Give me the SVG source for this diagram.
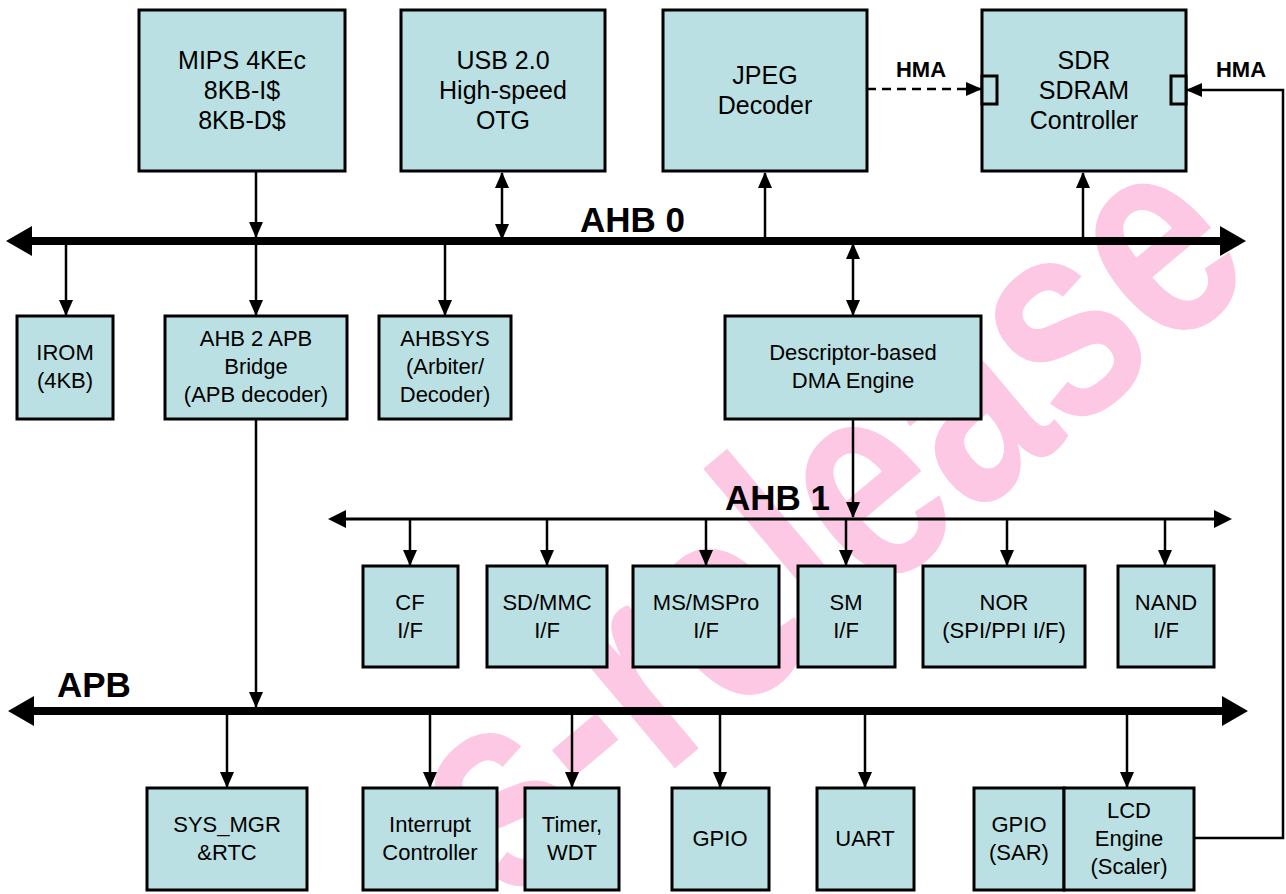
<svg xmlns="http://www.w3.org/2000/svg" width="1286" height="894" viewBox="0 0 1286 894">
<style>
.box{fill:#bae0e3;stroke:#000;stroke-width:3}
.t{font-family:"Liberation Sans",Arial,sans-serif;font-size:22px;text-anchor:middle;fill:#000}
.t1{font-family:"Liberation Sans",Arial,sans-serif;font-size:25px;text-anchor:middle;fill:#000}
.bl{font-family:"Liberation Sans",Arial,sans-serif;font-size:35px;font-weight:bold;fill:#000}
.hma{font-family:"Liberation Sans",Arial,sans-serif;font-size:22px;font-weight:bold;text-anchor:middle;fill:#000}
.c{fill:none;stroke:#000;stroke-width:2.5}
.wm{font-family:"Liberation Sans",Arial,sans-serif;font-size:270px;font-weight:bold;fill:#fcc8e4;text-anchor:middle}
</style>
<defs>
<marker id="ah" markerUnits="userSpaceOnUse" markerWidth="16" markerHeight="16" viewBox="0 0 16 16" refX="15" refY="8" orient="auto-start-reverse">
<path d="M0,1 L16,8 L0,15 Z" fill="#000"/>
</marker>
</defs>
<rect width="1286" height="894" fill="#fff"/>
<text class="wm" transform="translate(885,592) rotate(-40) scale(0.84,1.08)">s-release</text>

<g id="connectors">
<path d="M28,241 H1224" stroke="#000" stroke-width="8"/>
<path d="M6,241 L32,226 L32,256 Z M1246,241 L1220,226 L1220,256 Z" fill="#000"/>
<path d="M30,711 H1226" stroke="#000" stroke-width="8"/>
<path d="M8,711 L34,696 L34,726 Z M1248,711 L1222,696 L1222,726 Z" fill="#000"/>
<path d="M342,519 H1218" stroke="#000" stroke-width="3"/>
<path d="M328,519 L346,510 L346,528 Z M1232,519 L1214,510 L1214,528 Z" fill="#000"/>

<path class="c" d="M256,171 V237" marker-end="url(#ah)"/>
<path class="c" d="M502,173 V239" marker-start="url(#ah)" marker-end="url(#ah)"/>
<path class="c" d="M765,241 V173" marker-end="url(#ah)"/>
<path class="c" d="M1083,241 V173" marker-end="url(#ah)"/>
<path class="c" d="M66,241 V315" marker-end="url(#ah)"/>
<path class="c" d="M256,241 V315" marker-end="url(#ah)"/>
<path class="c" d="M445,241 V315" marker-end="url(#ah)"/>
<path class="c" d="M853,244 V315" marker-start="url(#ah)" marker-end="url(#ah)"/>
<path class="c" d="M853,419 V517" marker-end="url(#ah)"/>
<path class="c" d="M256,419 V707" marker-end="url(#ah)"/>
<path class="c" d="M410,519 V565" marker-end="url(#ah)"/>
<path class="c" d="M547,519 V565" marker-end="url(#ah)"/>
<path class="c" d="M706,519 V565" marker-end="url(#ah)"/>
<path class="c" d="M846,519 V565" marker-end="url(#ah)"/>
<path class="c" d="M1007,519 V565" marker-end="url(#ah)"/>
<path class="c" d="M1165,519 V565" marker-end="url(#ah)"/>
<path class="c" d="M227,711 V787" marker-end="url(#ah)"/>
<path class="c" d="M430,711 V787" marker-end="url(#ah)"/>
<path class="c" d="M572,711 V787" marker-end="url(#ah)"/>
<path class="c" d="M720,711 V787" marker-end="url(#ah)"/>
<path class="c" d="M865,711 V787" marker-end="url(#ah)"/>
<path class="c" d="M1127,711 V787" marker-end="url(#ah)"/>
<path class="c" d="M867,89 H981" stroke-dasharray="9,6" marker-end="url(#ah)"/>
<path class="c" d="M1194,838 H1283 V90 H1187" marker-end="url(#ah)"/>
</g>

<text class="bl" x="580" y="232">AHB 0</text>
<text class="bl" x="725" y="510">AHB 1</text>
<text class="bl" x="57" y="697">APB</text>
<text class="hma" x="921" y="77">HMA</text>
<text class="hma" x="1241" y="77">HMA</text>

<g id="mips"><rect class="box" x="139" y="10" width="206" height="161"/>
<text class="t1" x="242" y="69">MIPS 4KEc</text><text class="t1" x="242" y="99">8KB-I$</text><text class="t1" x="242" y="129">8KB-D$</text></g>
<g id="usb"><rect class="box" x="401" y="10" width="204" height="161"/>
<text class="t1" x="503" y="69">USB 2.0</text><text class="t1" x="503" y="99">High-speed</text><text class="t1" x="503" y="129">OTG</text></g>
<g id="jpeg"><rect class="box" x="663" y="10" width="204" height="161"/>
<text class="t1" x="765" y="84">JPEG</text><text class="t1" x="765" y="114">Decoder</text></g>
<g id="sdr"><rect class="box" x="982" y="10" width="204" height="161"/>
<rect class="box" x="982" y="76" width="15" height="28"/>
<rect class="box" x="1171" y="76" width="15" height="28"/>
<text class="t1" x="1084" y="69">SDR</text><text class="t1" x="1084" y="99">SDRAM</text><text class="t1" x="1084" y="129">Controller</text></g>

<g id="irom"><rect class="box" x="17" y="316" width="96" height="103"/>
<text class="t" x="65" y="360">IROM</text><text class="t" x="65" y="388">(4KB)</text></g>
<g id="bridge"><rect class="box" x="165" y="316" width="182" height="103"/>
<text class="t" x="256" y="346">AHB 2 APB</text><text class="t" x="256" y="374">Bridge</text><text class="t" x="256" y="402">(APB decoder)</text></g>
<g id="ahbsys"><rect class="box" x="379" y="316" width="132" height="103"/>
<text class="t" x="445" y="346">AHBSYS</text><text class="t" x="445" y="374">(Arbiter/</text><text class="t" x="445" y="402">Decoder)</text></g>
<g id="dma"><rect class="box" x="725" y="316" width="256" height="103"/>
<text class="t" x="853" y="360">Descriptor-based</text><text class="t" x="853" y="388">DMA Engine</text></g>

<g id="cf"><rect class="box" x="363" y="566" width="95" height="101"/>
<text class="t" x="410" y="610">CF</text><text class="t" x="410" y="638">I/F</text></g>
<g id="sdmmc"><rect class="box" x="487" y="566" width="120" height="101"/>
<text class="t" x="547" y="610">SD/MMC</text><text class="t" x="547" y="638">I/F</text></g>
<g id="ms"><rect class="box" x="633" y="566" width="146" height="101"/>
<text class="t" x="706" y="610">MS/MSPro</text><text class="t" x="706" y="638">I/F</text></g>
<g id="sm"><rect class="box" x="798" y="566" width="97" height="101"/>
<text class="t" x="846" y="610">SM</text><text class="t" x="846" y="638">I/F</text></g>
<g id="nor"><rect class="box" x="923" y="566" width="162" height="101"/>
<text class="t" x="1004" y="610">NOR</text><text class="t" x="1004" y="638">(SPI/PPI I/F)</text></g>
<g id="nand"><rect class="box" x="1118" y="566" width="96" height="101"/>
<text class="t" x="1166" y="610">NAND</text><text class="t" x="1166" y="638">I/F</text></g>

<g id="sysmgr"><rect class="box" x="147" y="788" width="160" height="102"/>
<text class="t" x="227" y="832">SYS_MGR</text><text class="t" x="227" y="860">&amp;RTC</text></g>
<g id="intc"><rect class="box" x="363" y="788" width="134" height="102"/>
<text class="t" x="430" y="832">Interrupt</text><text class="t" x="430" y="860">Controller</text></g>
<g id="timer"><rect class="box" x="525" y="788" width="94" height="102"/>
<text class="t" x="572" y="832">Timer,</text><text class="t" x="572" y="860">WDT</text></g>
<g id="gpio"><rect class="box" x="672" y="788" width="97" height="102"/>
<text class="t" x="720" y="846">GPIO</text></g>
<g id="uart"><rect class="box" x="817" y="788" width="97" height="102"/>
<text class="t" x="865" y="846">UART</text></g>
<g id="gpiosar"><rect class="box" x="974" y="788" width="90" height="102"/>
<text class="t" x="1019" y="832">GPIO</text><text class="t" x="1019" y="860">(SAR)</text></g>
<g id="lcd"><rect class="box" x="1064" y="788" width="130" height="102"/>
<text class="t" x="1129" y="818">LCD</text><text class="t" x="1129" y="846">Engine</text><text class="t" x="1129" y="874">(Scaler)</text></g>
</svg>
